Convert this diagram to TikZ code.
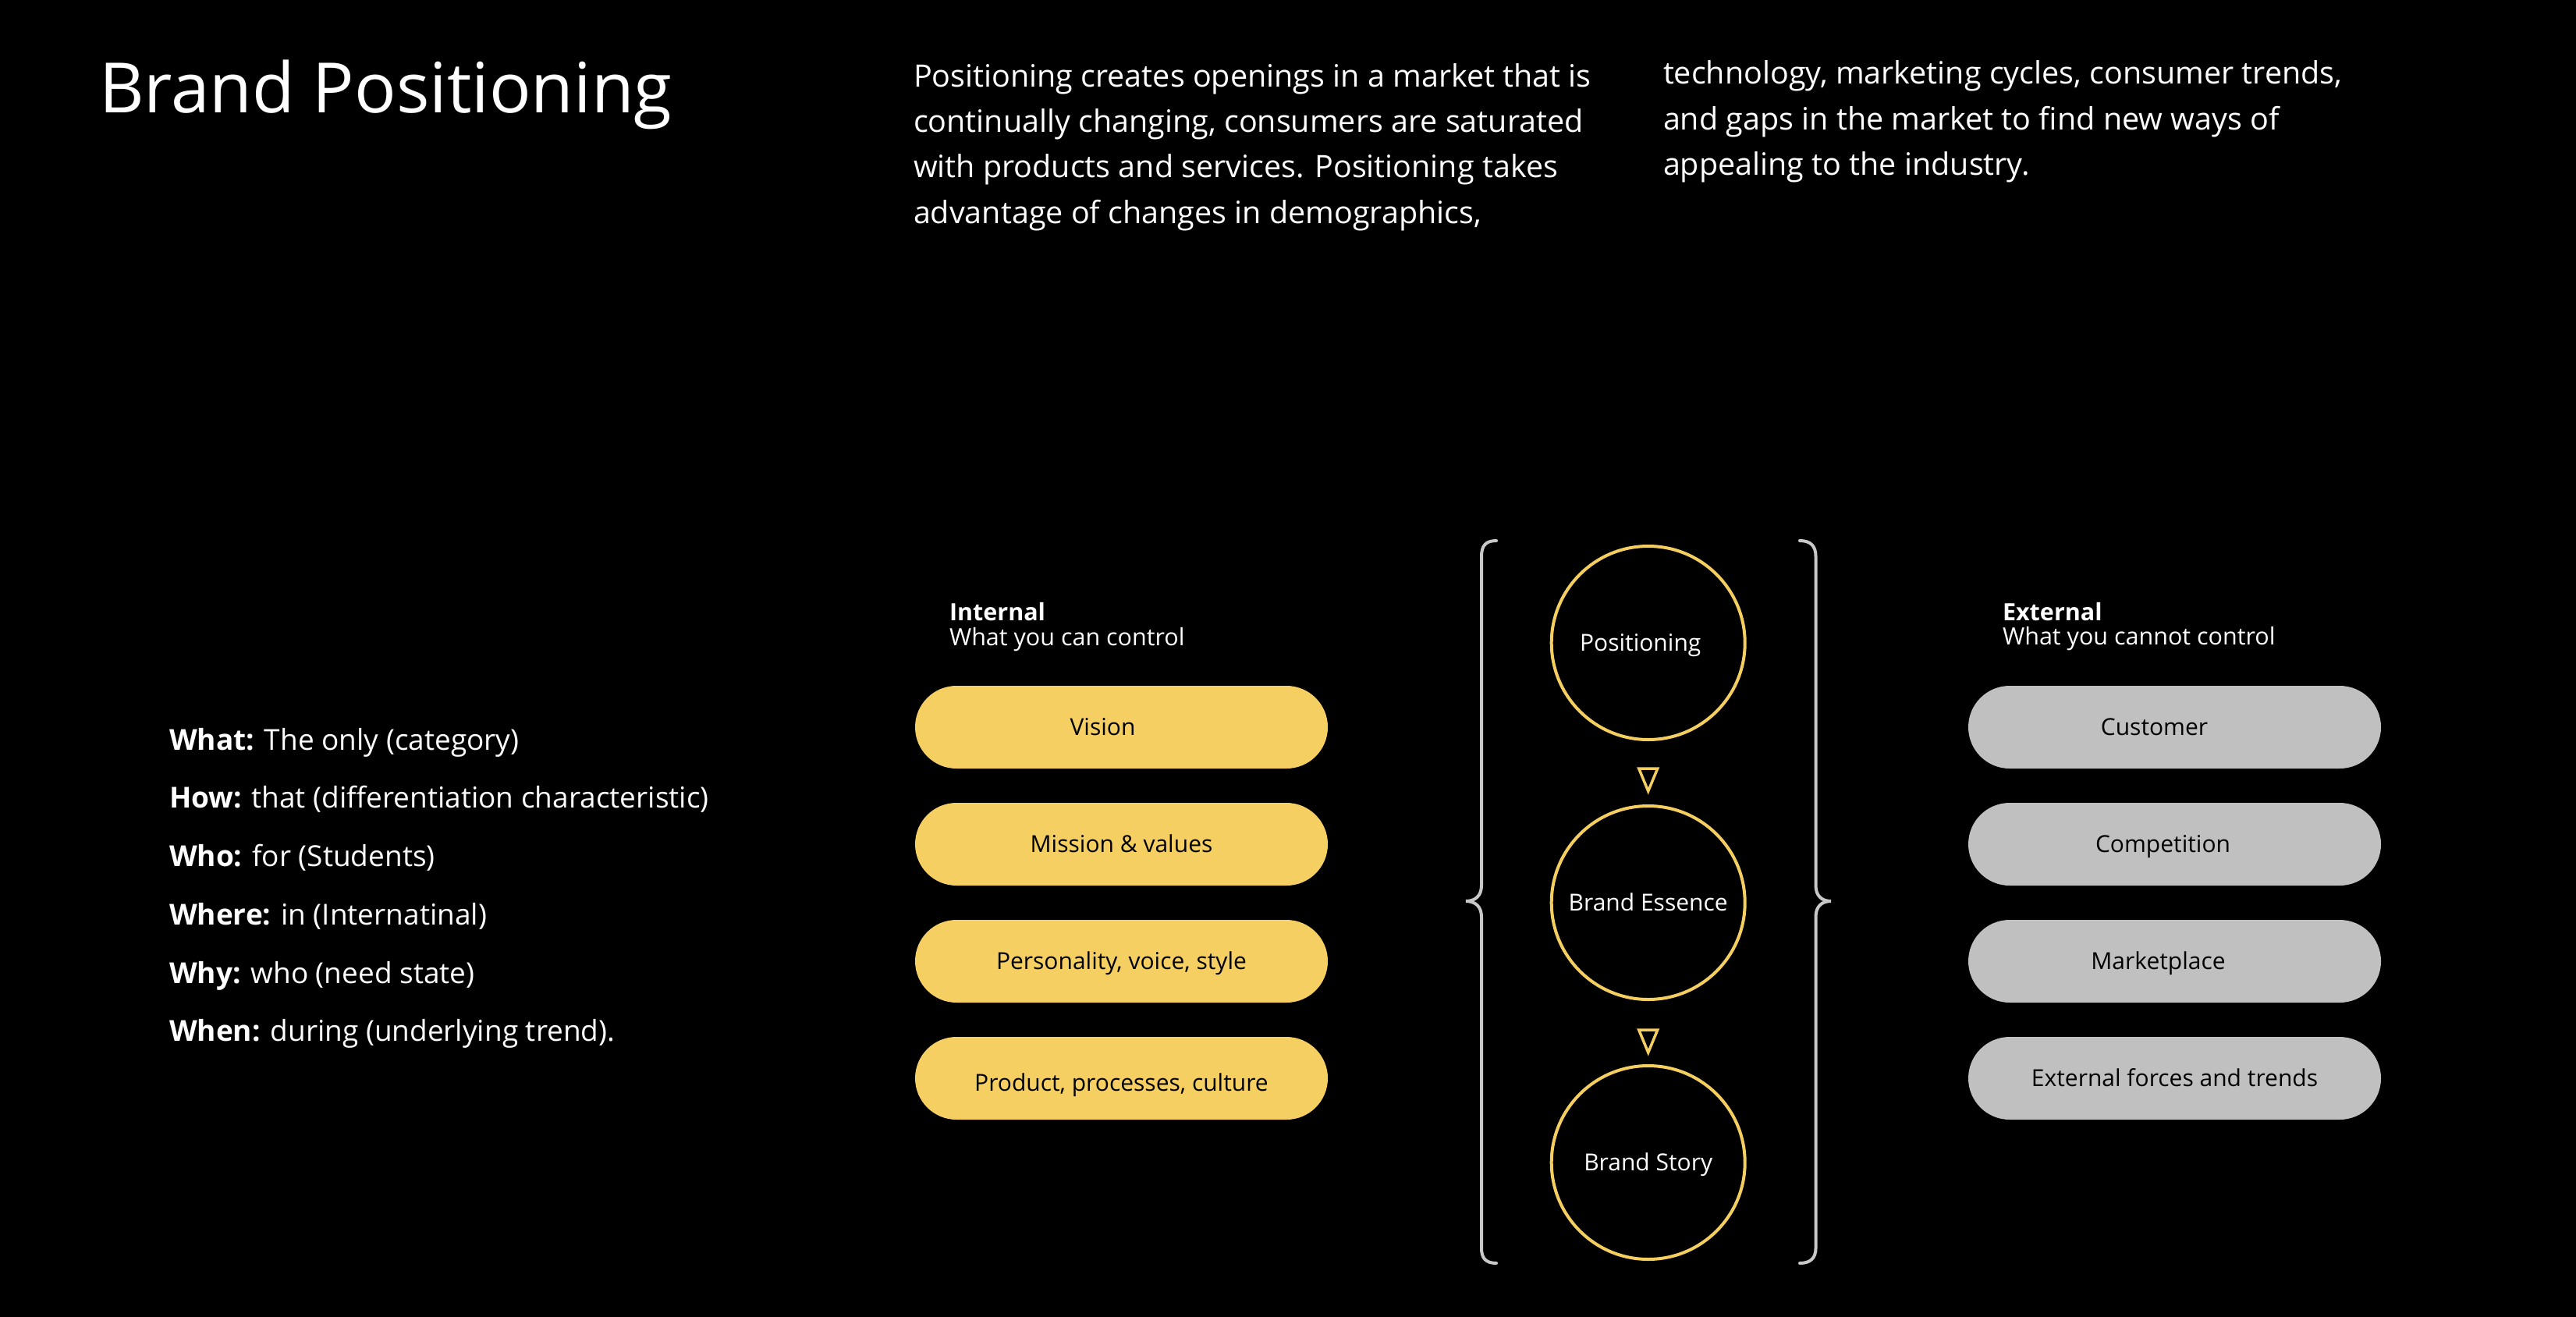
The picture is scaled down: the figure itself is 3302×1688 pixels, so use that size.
\documentclass[tikz,border=0pt]{standalone}
\usepackage{fontspec}
\setmainfont{Open Sans}
\usetikzlibrary{calc}
\definecolor{pillyellow}{HTML}{F6CF62}
\definecolor{pillgray}{HTML}{C0C0C0}
\definecolor{ringyellow}{HTML}{F4CE5E}
\definecolor{bracegray}{HTML}{C8C8C8}
\newcommand{\padright}[2]{#1\hspace*{#2}\null}
\begin{document}
\begin{tikzpicture}[x=1pt,y=-1pt,
  txt/.style={anchor=base west, inner sep=0pt, outer sep=0pt, text=white},
  titletxt/.style={txt, font=\fontsize{89}{100}\selectfont},
  paratxt/.style={txt, font=\fontsize{39.5}{46}\selectfont},
  listtxt/.style={txt, font=\fontsize{37}{44}\selectfont},
  headtxt/.style={txt, font=\fontsize{30.5}{36}\selectfont},
  pillbase/.style={shape=rectangle, rounded corners=53pt, minimum width=529pt,
    minimum height=106pt, inner sep=0pt, text=black,
    font=\fontsize{30}{36}\selectfont, text height=21pt, text depth=0pt},
  ipill/.style={pillbase, fill=pillyellow},
  epill/.style={pillbase, fill=pillgray},
  ring/.style={circle, draw=ringyellow, line width=4pt, minimum size=248pt,
    inner sep=0pt, text=white, font=\fontsize{30}{36}\selectfont,
    text height=21pt, text depth=0pt},
  tri/.style={draw=ringyellow, line width=3.5pt, line join=miter},
  bracestyle/.style={draw=bracegray, line width=4pt, line cap=round}
]
\fill[black] (0,0) rectangle (3302,1688);
\useasboundingbox (0,0) rectangle (3302,1688);

% title
\node[titletxt] (title) at (127,145) {Brand Positioning};

% paragraph, first column
\node[paratxt] (p1a) at (1171,112) {Positioning creates openings in a market that is};
\node[paratxt] (p1b) at (1171,170) {continually changing, consumers are saturated};
\node[paratxt] (p1c) at (1171,228) {with products and services. Positioning takes};
\node[paratxt] (p1d) at (1171,287) {advantage of changes in demographics,};

% paragraph, second column
\node[paratxt] (p2a) at (2132,108) {technology, marketing cycles, consumer trends,};
\node[paratxt] (p2b) at (2132,167) {and gaps in the market to find new ways of};
\node[paratxt] (p2c) at (2132,225) {appealing to the industry.};

% left list
\node[listtxt] (l1) at (217,961) {\textbf{What:} The only (category)};
\node[listtxt] (l2) at (217,1035) {\textbf{How:} that (differentiation characteristic)};
\node[listtxt] (l3) at (217,1110) {\textbf{Who:} for (Students)};
\node[listtxt] (l4) at (217,1185) {\textbf{Where:} in (Internatinal)};
\node[listtxt] (l5) at (217,1260) {\textbf{Why:} who (need state)};
\node[listtxt] (l6) at (217,1334) {\textbf{When:} during (underlying trend).};

% internal column
\node[headtxt] (inthead) at (1217,795) {\textbf{Internal}};
\node[headtxt] (intsub) at (1217,827) {What you can control};
\node[ipill] (vision) at (1437.5,932) {\padright{Vision}{48pt}};
\node[ipill] (mission) at (1437.5,1082) {Mission \& values};
\node[ipill] (person) at (1437.5,1232) {Personality, voice, style};
\node[ipill] (product) at (1437.5,1382) {\raisebox{-6pt}{Product, processes, culture}};

% external column
\node[headtxt] (exthead) at (2567,795) {\textbf{External}};
\node[headtxt] (extsub) at (2567,826) {What you cannot control};
\node[epill] (customer) at (2787.5,932) {\padright{Customer}{52pt}};
\node[epill] (compet) at (2787.5,1082) {\padright{Competition}{30pt}};
\node[epill] (market) at (2787.5,1232) {\padright{Marketplace}{42pt}};
\node[epill] (forces) at (2787.5,1382) {External forces and trends};

% centre circles
\node[ring] (pos) at (2112.7,824) {\padright{Positioning}{20pt}};
\node[ring] (ess) at (2112.7,1157) {Brand Essence};
\node[ring] (story) at (2112.7,1490) {Brand Story};

% triangles between circles
\draw[tri] ($(pos.south)+(-12,35)$) -- ($(pos.south)+(12,35)$) -- ($(pos.south)+(0,64)$) -- cycle;
\draw[tri] ($(ess.south)+(-12,37)$) -- ($(ess.south)+(12,37)$) -- ($(ess.south)+(0,66)$) -- cycle;

% braces
\draw[bracestyle] (1918,693) .. controls (1904,693) and (1899,700) .. (1899,713)
  -- (1899,1135) .. controls (1899,1148) and (1891,1155) .. (1879,1155)
  .. controls (1891,1155) and (1899,1162) .. (1899,1175)
  -- (1899,1600) .. controls (1899,1612) and (1904,1619) .. (1918,1619);
\draw[bracestyle] (2307,693) .. controls (2321,693) and (2327.5,700) .. (2327.5,713)
  -- (2327.5,1135) .. controls (2327.5,1148) and (2335,1155) .. (2347,1155)
  .. controls (2335,1155) and (2327.5,1162) .. (2327.5,1175)
  -- (2327.5,1600) .. controls (2327.5,1612) and (2321,1619) .. (2307,1619);
\end{tikzpicture}
\end{document}
